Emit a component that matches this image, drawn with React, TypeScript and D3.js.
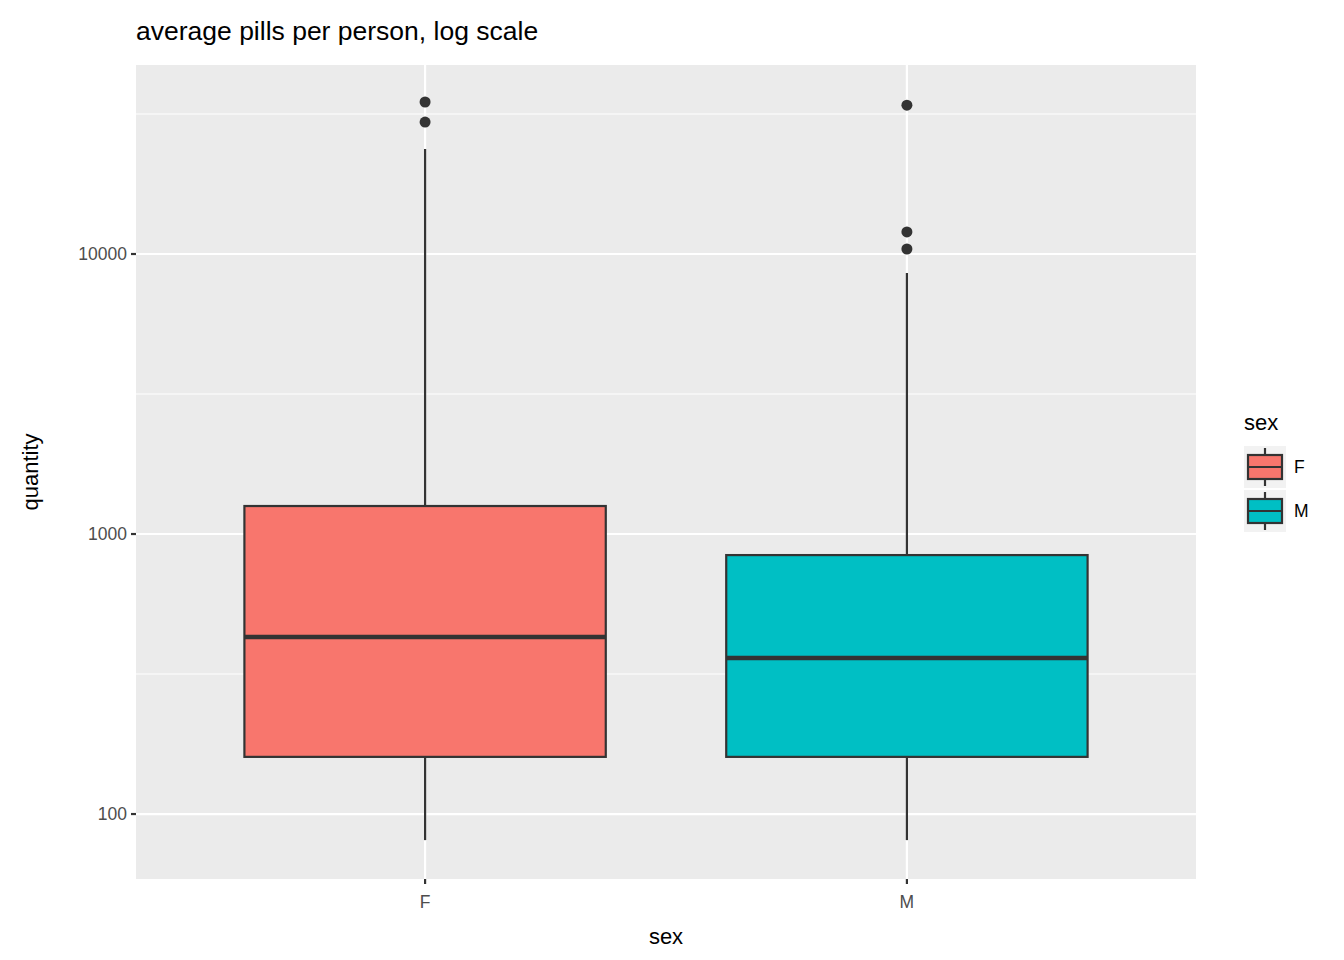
import React from "react";
import * as d3 from "d3";

const categories = ["F", "M"];
const colors = ["#F8766D", "#00BFC4"];
// [lower whisker, q1, median, q3, upper whisker]
const boxStats = [
  [80.7, 160, 429, 1259, 23700],
  [80.7, 160, 361, 841, 8550],
];
const outliers = [
  [34900, 29600],
  [34000, 11990, 10420],
];
const yTicks = [100, 1000, 10000];

const W = 1344;
const H = 960;
const panel = { left: 136, right: 1196, top: 65, bottom: 879 };
const font = "Liberation Sans, Arial, sans-serif";

export default function App() {
  const x = d3.scalePoint<string>().domain(categories).range([panel.left, panel.right]).padding(0.6);
  const y = d3.scaleLog().domain([Math.pow(10, 1.768), Math.pow(10, 4.675)]).range([panel.bottom, panel.top]);
  const boxW = x.step() * 0.75;
  const minor = [2.5, 3.5, 4.5].map((e) => Math.pow(10, e));

  return (
    <svg width={W} height={H} style={{ position: "absolute", left: 0, top: 0 }} fontFamily={font}>
      <rect width={W} height={H} fill="white" />
      <rect x={panel.left} y={panel.top} width={panel.right - panel.left} height={panel.bottom - panel.top} fill="#EBEBEB" />
      {minor.map((t) => (
        <line key={t} x1={panel.left} x2={panel.right} y1={y(t)} y2={y(t)} stroke="white" strokeWidth={1.1} />
      ))}
      {yTicks.map((t) => (
        <line key={t} x1={panel.left} x2={panel.right} y1={y(t)} y2={y(t)} stroke="white" strokeWidth={2.2} />
      ))}
      {categories.map((c) => (
        <line key={c} x1={x(c)} x2={x(c)} y1={panel.top} y2={panel.bottom} stroke="white" strokeWidth={2.2} />
      ))}

      {categories.map((c, i) => {
        const [lo, q1, med, q3, hi] = boxStats[i];
        const cx = x(c)!;
        return (
          <g key={c}>
            <line x1={cx} x2={cx} y1={y(q3)} y2={y(hi)} stroke="#333" strokeWidth={2.2} />
            <line x1={cx} x2={cx} y1={y(lo)} y2={y(q1)} stroke="#333" strokeWidth={2.2} />
            <rect x={cx - boxW / 2} y={y(q3)} width={boxW} height={y(q1) - y(q3)} fill={colors[i]} stroke="#333" strokeWidth={2.2} />
            <line x1={cx - boxW / 2} x2={cx + boxW / 2} y1={y(med)} y2={y(med)} stroke="#333" strokeWidth={4.4} />
            {outliers[i].map((o) => (
              <circle key={o} cx={cx} cy={y(o)} r={5.5} fill="#333" />
            ))}
          </g>
        );
      })}

      {yTicks.map((t) => (
        <g key={t}>
          <line x1={panel.left - 5} x2={panel.left} y1={y(t)} y2={y(t)} stroke="#333" strokeWidth={2.2} />
          <text x={panel.left - 9} y={y(t)} dy="0.35em" textAnchor="end" fontSize={17.5} fill="#4D4D4D">{t}</text>
        </g>
      ))}
      {categories.map((c) => (
        <g key={c}>
          <line x1={x(c)} x2={x(c)} y1={panel.bottom} y2={panel.bottom + 5} stroke="#333" strokeWidth={2.2} />
          <text x={x(c)} y={panel.bottom + 23} dy="0.35em" textAnchor="middle" fontSize={17.5} fill="#4D4D4D">{c}</text>
        </g>
      ))}

      <text x={(panel.left + panel.right) / 2} y={944} textAnchor="middle" fontSize={22}>sex</text>
      <text transform={`translate(38,${(panel.top + panel.bottom) / 2}) rotate(-90)`} textAnchor="middle" fontSize={22}>quantity</text>
      <text x={panel.left} y={40} fontSize={26.5}>average pills per person, log scale</text>

      <text x={1244} y={430} fontSize={22}>sex</text>
      {categories.map((c, i) => {
        const ky = 446 + i * 44;
        return (
          <g key={c}>
            <rect x={1244} y={ky} width={42} height={42} fill="#F2F2F2" />
            <line x1={1265} x2={1265} y1={ky + 2} y2={ky + 40} stroke="#333" strokeWidth={2.2} />
            <rect x={1248} y={ky + 9} width={34} height={24} fill={colors[i]} stroke="#333" strokeWidth={2.2} />
            <line x1={1248} x2={1282} y1={ky + 21} y2={ky + 21} stroke="#333" strokeWidth={2.2} />
            <text x={1294} y={ky + 21} dy="0.35em" fontSize={17.5}>{c}</text>
          </g>
        );
      })}
    </svg>
  );
}
